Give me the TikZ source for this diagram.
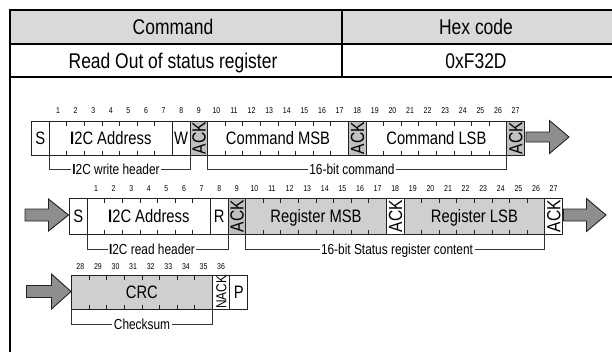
\documentclass[tikz,border=0pt]{standalone}
\usepackage{fontspec}
\setmainfont{Liberation Sans}[FakeStretch=0.82]
\definecolor{hdrgray}{HTML}{D9D9D9}
\definecolor{ackgray}{HTML}{C0C0C0}
\definecolor{reggray}{HTML}{CFCFCF}
\definecolor{arrgray}{HTML}{8E8E8E}
\definecolor{linedark}{HTML}{222222}
\definecolor{brkdark}{HTML}{333333}
\newcommand\bw{17.6}
\tikzset{
  tbl/.style={line width=2pt, black},
  fldline/.style={draw=linedark, line width=0.9pt},
  ticklin/.style={draw=linedark, line width=0.8pt},
  brk/.style={draw=brkdark, line width=0.8pt},
  hdr/.style={font=\fontsize{21.3}{24}\selectfont, inner sep=0pt, text height=15.3pt, text depth=0pt},
  fldtxt/.style={font=\fontsize{18}{20}\selectfont, inner sep=0pt, text height=12.9pt, text depth=0pt},
  acktxt/.style={font=\fontsize{19}{21}\selectfont, inner sep=0pt, text height=13.6pt, text depth=0pt, rotate=90},
  nacktxt/.style={font=\fontsize{14.5}{16}\selectfont, inner sep=0pt, text height=10.4pt, text depth=0pt, rotate=90},
  brlbl/.style={font=\fontsize{14.5}{16}\selectfont, fill=white, inner xsep=1.5pt, inner ysep=0pt, text height=10.4pt, text depth=0pt},
  numtxt/.style={font=\fontsize{8.5}{10}\selectfont, inner sep=0pt},
  blockarr/.style={draw=linedark, fill=arrgray, line width=0.9pt, line join=miter}
}
% #1 x0, #2 first bit, #3 last bit, #4 top, #5 bottom, #6 fill, #7 coordinate name
\newcommand\fieldbox[7]{%
  \pgfmathsetmacro\fldA{#1+#2*\bw}%
  \pgfmathsetmacro\fldB{#1+(#3+1)*\bw}%
  \filldraw[fldline,fill=#6] (\fldA,#4) rectangle (\fldB,#5);%
  \coordinate (#7) at ({(\fldA+\fldB)/2},{(#4+#5)/2});%
  \ifnum#3>#2\relax
    \pgfmathtruncatemacro\fldS{#2+1}%
    \foreach \k in {\fldS,...,#3}{%
      \draw[ticklin] ({#1+\k*\bw},#4) -- ++(0,4.5) ({#1+\k*\bw},#5) -- ++(0,-4.5);}%
  \fi}
% #1 start x, #2 head base x, #3 tip x, #4 centre y, #5 shaft half height, #6 head half height
\newcommand\blockarrow[6]{%
  \filldraw[blockarr] (#1,#4-#5) -- (#2,#4-#5) -- (#2,#4-#6) -- (#3,#4) -- (#2,#4+#6) -- (#2,#4+#5) -- (#1,#4+#5) -- cycle;}
\begin{document}
\begin{tikzpicture}[x=1pt,y=-1pt]
\useasboundingbox (0,0) rectangle (612,351);
% ---- table ----
\begin{scope}
\clip (0,0) rectangle (612,351);
\fill[hdrgray] (10,10) rectangle (640,44);
\draw[tbl] (640,10) -- (10,10) -- (10,360);
\draw[tbl] (10,44) -- (640,44);
\draw[tbl] (10,77) -- (640,77);
\draw[tbl] (342,10) -- (342,77);
\end{scope}
\node[hdr] (hcmd) at (173,27) {Command};
\node[hdr] (hhex) at (476,27) {Hex code};
\node[hdr] (rcmd) at (173,60.5) {Read Out of status register};
\node[hdr] (rhex) at (476,60.5) {0xF32D};

% ---- row 1 ----
\def\xA{31.6}
\fieldbox{\xA}{0}{0}{121}{155}{white}{rAs}
\fieldbox{\xA}{1}{7}{121}{155}{white}{rAaddr}
\fieldbox{\xA}{8}{8}{121}{155}{white}{rAw}
\fieldbox{\xA}{9}{9}{121}{155}{ackgray}{rAackA}
\fieldbox{\xA}{10}{17}{121}{155}{white}{rAmsb}
\fieldbox{\xA}{18}{18}{121}{155}{ackgray}{rAackB}
\fieldbox{\xA}{19}{26}{121}{155}{white}{rAlsb}
\fieldbox{\xA}{27}{27}{121}{155}{ackgray}{rAackC}
\node[fldtxt] (tAs) at (rAs) {S};
\node[fldtxt] (tAaddr) at (rAaddr) {\textbf{I}2C Address};
\node[fldtxt] (tAw) at (rAw) {W};
\node[acktxt] (tAackA) at (rAackA) {ACK};
\node[fldtxt] (tAmsb) at (rAmsb) {Command MSB};
\node[acktxt] (tAackB) at (rAackB) {ACK};
\node[fldtxt] (tAlsb) at (rAlsb) {Command LSB};
\node[acktxt] (tAackC) at (rAackC) {ACK};
\foreach \n in {1,...,27} \node[numtxt] (nA\n) at ({\xA+(\n+0.5)*\bw},111) {\n};
\draw[brk] ({\xA+1*\bw},155) -- ({\xA+1*\bw},169) -- ({\xA+9*\bw},169) -- ({\xA+9*\bw},155);
\node[brlbl] (bAhdr) at (116,169) {\textbf{I}2C write header};
\draw[brk] ({\xA+10*\bw},155) -- ({\xA+10*\bw},169) -- ({\xA+27*\bw},169) -- ({\xA+27*\bw},155);
\node[brlbl] (bAcmd) at (352,169) {16-bit command};
\blockarrow{526}{549.5}{569}{137}{5}{16.5}

% ---- row 2 ----
\def\xB{69.6}
\fieldbox{\xB}{0}{0}{198}{234}{white}{rBs}
\fieldbox{\xB}{1}{7}{198}{234}{white}{rBaddr}
\fieldbox{\xB}{8}{8}{198}{234}{white}{rBr}
\fieldbox{\xB}{9}{9}{198}{234}{ackgray}{rBackA}
\fieldbox{\xB}{10}{17}{198}{234}{reggray}{rBmsb}
\fieldbox{\xB}{18}{18}{198}{234}{white}{rBackB}
\fieldbox{\xB}{19}{26}{198}{234}{reggray}{rBlsb}
\fieldbox{\xB}{27}{27}{198}{234}{white}{rBackC}
\node[fldtxt] (tBs) at (rBs) {S};
\node[fldtxt] (tBaddr) at (rBaddr) {\textbf{I}2C Address};
\node[fldtxt] (tBr) at (rBr) {R};
\node[acktxt] (tBackA) at (rBackA) {ACK};
\node[fldtxt] (tBmsb) at (rBmsb) {Register MSB};
\node[acktxt] (tBackB) at (rBackB) {ACK};
\node[fldtxt] (tBlsb) at (rBlsb) {Register LSB};
\node[acktxt] (tBackC) at (rBackC) {ACK};
\foreach \n in {1,...,27} \node[numtxt] (nB\n) at ({\xB+(\n+0.5)*\bw},189) {\n};
\draw[brk] ({\xB+1*\bw},234) -- ({\xB+1*\bw},249.5) -- ({\xB+9*\bw},249.5) -- ({\xB+9*\bw},234);
\node[brlbl] (bBhdr) at (152,249.5) {\textbf{I}2C read header};
\draw[brk] ({\xB+10*\bw},234) -- ({\xB+10*\bw},249.5) -- ({\xB+27*\bw},249.5) -- ({\xB+27*\bw},234);
\node[brlbl] (bBcnt) at (397,249.5) {16-bit Status register content};
\blockarrow{25}{48.5}{68.5}{215}{6}{16}
\blockarrow{563.5}{586.5}{606}{215}{6}{16.5}

% ---- row 3 ----
\def\xC{71.5}
\fieldbox{\xC}{0}{7}{275}{309.5}{reggray}{rCcrc}
\fieldbox{\xC}{8}{8}{275}{309.5}{white}{rCnack}
\fieldbox{\xC}{9}{9}{275}{309.5}{white}{rCp}
\node[fldtxt] (tCcrc) at (rCcrc) {CRC};
\node[nacktxt] (tCnack) at (rCnack) {NACK};
\node[fldtxt] (tCp) at (rCp) {P};
\foreach \n in {28,...,36} \node[numtxt] (nC\n) at ({\xC+(\n-28+0.5)*\bw},267) {\n};
\draw[brk] (\xC,309.5) -- (\xC,324.5) -- ({\xC+8*\bw},324.5) -- ({\xC+8*\bw},309.5);
\node[brlbl] (bCsum) at (142,324.5) {Checksum};
\blockarrow{26.5}{51.5}{71}{291.5}{6}{17.5}
\end{tikzpicture}
\end{document}
